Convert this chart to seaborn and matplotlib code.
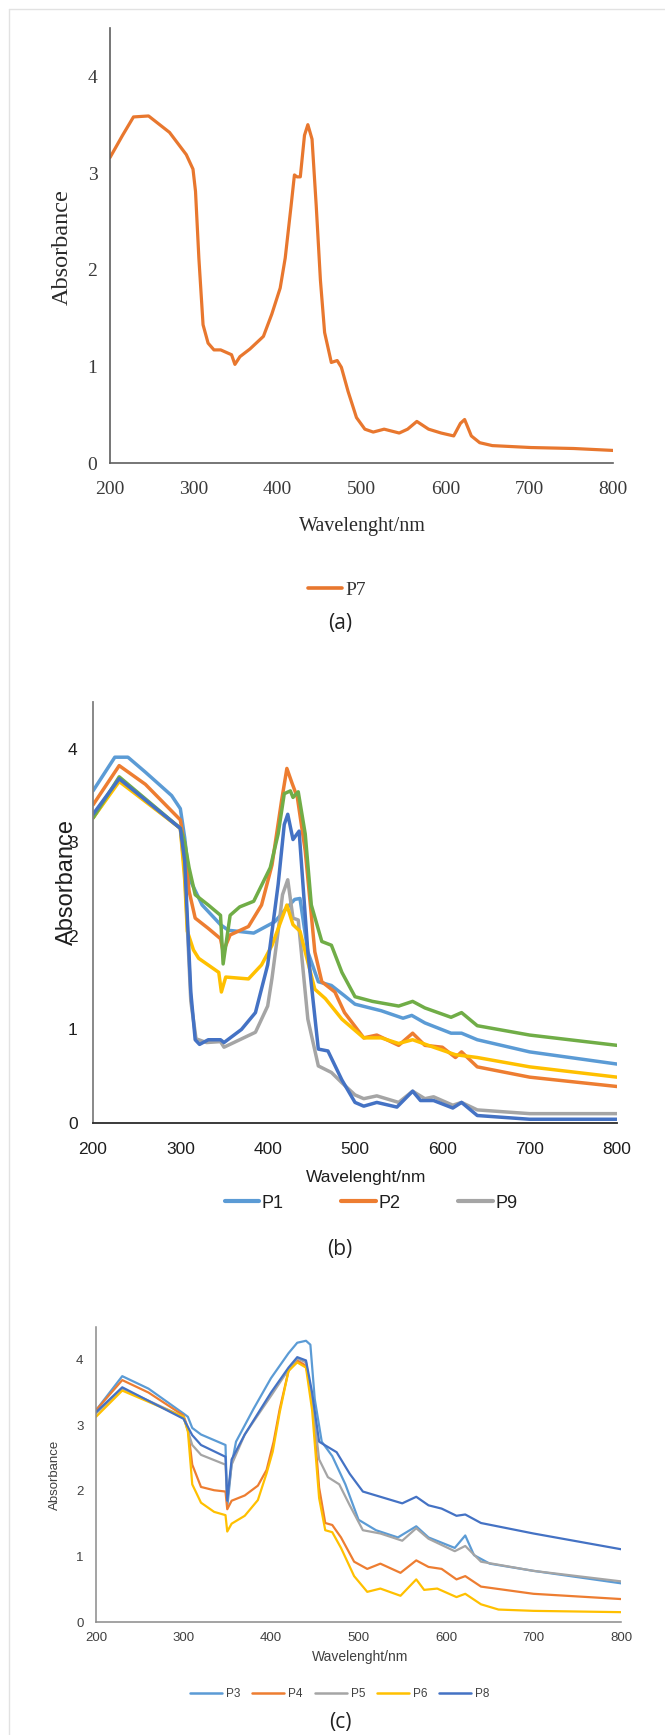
import matplotlib
matplotlib.use("Agg")
import matplotlib.pyplot as plt
import pandas as pd
import seaborn as sns
from matplotlib import font_manager
from matplotlib.lines import Line2D

# ---- panel (a): P7 ----
wl_p7 = [200, 215, 228, 246, 271, 291, 299, 302, 306, 311, 317, 324, 332, 345, 349, 355, 367, 383, 393,
         403, 409, 416, 420, 423, 427, 432, 436, 441, 446, 451, 456, 464, 471, 476, 484, 494, 504, 514,
         527, 545, 555, 566, 580, 595, 610, 618, 623, 631, 641, 656, 702, 753, 800]
abs_p7 = [3.16, 3.39, 3.58, 3.59, 3.42, 3.19, 3.04, 2.81, 2.12, 1.43, 1.24, 1.17, 1.17, 1.12, 1.02, 1.10,
          1.18, 1.31, 1.54, 1.81, 2.12, 2.66, 2.98, 2.96, 2.96, 3.39, 3.50, 3.35, 2.66, 1.89, 1.35, 1.04,
          1.06, 0.99, 0.74, 0.47, 0.35, 0.32, 0.35, 0.31, 0.35, 0.43, 0.35, 0.31, 0.28, 0.41, 0.45, 0.28,
          0.21, 0.18, 0.16, 0.15, 0.13]

# ---- panel (b) ----
wl_p1 = [200, 225, 240, 260, 290, 300, 305, 310, 325, 346, 355, 384, 408, 423, 431, 437, 446, 458, 473,
         488, 500, 530, 555, 565, 580, 610, 622, 640, 700, 800]
abs_p1 = [3.55, 3.91, 3.91, 3.75, 3.50, 3.36, 3.05, 2.62, 2.33, 2.12, 2.06, 2.03, 2.15, 2.31, 2.39, 2.40,
          1.83, 1.51, 1.47, 1.36, 1.27, 1.20, 1.12, 1.15, 1.07, 0.96, 0.96, 0.89, 0.76, 0.63]

wl_p2 = [200, 230, 260, 300, 305, 310, 317, 332, 346, 349, 357, 378, 393, 405, 416, 422, 428, 434, 443,
         454, 462, 477, 488, 510, 525, 550, 566, 580, 600, 615, 622, 640, 700, 800]
abs_p2 = [3.40, 3.82, 3.62, 3.24, 2.95, 2.48, 2.19, 2.08, 1.97, 1.83, 2.01, 2.10, 2.33, 2.76, 3.45, 3.79,
          3.63, 3.48, 2.91, 1.83, 1.51, 1.40, 1.18, 0.91, 0.94, 0.83, 0.96, 0.83, 0.81, 0.70, 0.76, 0.60,
          0.49, 0.39]

wl_p9 = [200, 230, 300, 305, 312, 318, 330, 346, 350, 386, 400, 405, 412, 417, 423, 429, 435, 446, 458,
         473, 485, 500, 510, 525, 550, 566, 580, 590, 612, 622, 640, 700, 800]
abs_p9 = [3.26, 3.67, 3.15, 2.70, 1.30, 0.90, 0.86, 0.87, 0.81, 0.97, 1.25, 1.55, 2.05, 2.44, 2.60, 2.19,
          2.17, 1.11, 0.61, 0.54, 0.43, 0.30, 0.26, 0.29, 0.22, 0.34, 0.26, 0.28, 0.19, 0.22, 0.14, 0.10,
          0.10]

wl_b_yellow = [200, 230, 300, 305, 308, 315, 321, 344, 347, 352, 378, 393, 405, 422, 429, 437, 446, 454,
               466, 485, 510, 530, 550, 566, 590, 615, 640, 700, 800]
abs_b_yellow = [3.26, 3.65, 3.15, 2.60, 2.05, 1.85, 1.76, 1.61, 1.40, 1.56, 1.54, 1.69, 1.90, 2.33, 2.12,
                2.05, 1.72, 1.43, 1.33, 1.11, 0.91, 0.91, 0.85, 0.89, 0.81, 0.73, 0.70, 0.60, 0.49]

wl_b_green = [200, 230, 300, 305, 310, 317, 332, 346, 349, 357, 368, 384, 403, 412, 419, 426, 429, 435,
              443, 450, 462, 473, 485, 500, 520, 550, 566, 580, 610, 622, 640, 700, 800]
abs_b_green = [3.26, 3.70, 3.15, 3.00, 2.73, 2.44, 2.33, 2.22, 1.70, 2.22, 2.31, 2.37, 2.73, 3.09, 3.52,
               3.55, 3.48, 3.54, 3.09, 2.33, 1.94, 1.90, 1.61, 1.35, 1.30, 1.25, 1.30, 1.23, 1.13, 1.18,
               1.04, 0.94, 0.83]

wl_b_navy = [200, 230, 300, 305, 312, 317, 322, 332, 346, 350, 370, 386, 400, 412, 419, 423, 429, 436,
             446, 458, 469, 485, 500, 510, 525, 548, 566, 575, 590, 612, 622, 640, 700, 800]
abs_b_navy = [3.30, 3.68, 3.15, 2.80, 1.40, 0.89, 0.84, 0.89, 0.89, 0.86, 1.00, 1.18, 1.69, 2.55, 3.19,
              3.30, 3.03, 3.12, 1.83, 0.79, 0.77, 0.46, 0.22, 0.18, 0.22, 0.17, 0.34, 0.24, 0.24, 0.16,
              0.22, 0.08, 0.04, 0.04]

# ---- panel (c) ----
wl_p3 = [200, 230, 260, 300, 305, 310, 320, 348, 350, 355, 360, 380, 400, 420, 430, 440, 445, 450, 458,
         470, 485, 500, 520, 545, 566, 580, 610, 622, 632, 650, 700, 800]
abs_p3 = [3.23, 3.75, 3.56, 3.18, 3.13, 2.96, 2.86, 2.70, 1.75, 2.40, 2.75, 3.25, 3.72, 4.10, 4.26, 4.29,
          4.23, 3.40, 2.75, 2.53, 2.10, 1.56, 1.40, 1.29, 1.46, 1.29, 1.13, 1.32, 1.02, 0.89, 0.78, 0.59]

wl_p4 = [200, 230, 260, 300, 305, 310, 320, 335, 348, 350, 355, 370, 385, 395, 403, 410, 420, 430, 440,
         447, 455, 462, 470, 480, 495, 510, 525, 548, 566, 580, 595, 612, 622, 640, 700, 800]
abs_p4 = [3.23, 3.69, 3.50, 3.15, 2.96, 2.40, 2.06, 2.01, 1.99, 1.72, 1.85, 1.93, 2.08, 2.32, 2.75, 3.25,
          3.83, 3.99, 3.91, 3.40, 2.05, 1.51, 1.48, 1.29, 0.92, 0.81, 0.89, 0.75, 0.94, 0.84, 0.81, 0.65,
          0.70, 0.54, 0.43, 0.35]

wl_p5 = [200, 230, 300, 310, 320, 348, 350, 355, 370, 400, 420, 430, 440, 447, 455, 465, 478, 490, 505,
         525, 550, 566, 580, 610, 622, 640, 700, 800]
abs_p5 = [3.18, 3.56, 3.13, 2.70, 2.55, 2.40, 1.85, 2.40, 2.86, 3.45, 3.85, 4.02, 3.96, 3.40, 2.48, 2.21,
          2.10, 1.78, 1.40, 1.35, 1.24, 1.43, 1.27, 1.08, 1.16, 0.92, 0.78, 0.62]

wl_p6 = [200, 230, 300, 305, 310, 320, 335, 348, 350, 355, 370, 385, 395, 402, 410, 420, 430, 440, 447,
         455, 462, 470, 480, 495, 510, 525, 548, 566, 575, 590, 612, 622, 640, 660, 700, 800]
abs_p6 = [3.13, 3.53, 3.13, 2.91, 2.10, 1.82, 1.68, 1.63, 1.38, 1.50, 1.62, 1.86, 2.27, 2.60, 3.20, 3.83,
          3.96, 3.88, 3.23, 1.89, 1.40, 1.37, 1.13, 0.70, 0.46, 0.51, 0.40, 0.65, 0.49, 0.51, 0.38, 0.43,
          0.27, 0.19, 0.17, 0.15]

wl_p8 = [200, 230, 300, 310, 320, 348, 350, 355, 370, 400, 420, 430, 440, 447, 455, 465, 475, 490, 505,
         525, 550, 566, 580, 595, 612, 622, 640, 700, 800]
abs_p8 = [3.20, 3.58, 3.10, 2.85, 2.70, 2.52, 1.85, 2.48, 2.86, 3.50, 3.88, 4.04, 3.99, 3.50, 2.75, 2.67,
          2.59, 2.26, 1.99, 1.91, 1.81, 1.91, 1.78, 1.73, 1.62, 1.64, 1.51, 1.35, 1.11]

x_ticks = [200, 300, 400, 500, 600, 700, 800]
y_ticks = [0, 1, 2, 3, 4]

BLUE, ORANGE, GRAY, YELLOW, NAVY, GREEN = "#5B9BD5", "#ED7D31", "#A5A5A5", "#FFC000", "#4472C4", "#70AD47"

W, H = 665, 1735

sns.set_theme(style="white")
plt.rcParams["font.family"] = ["Liberation Sans", "DejaVu Sans"]

installed = {f.name for f in font_manager.fontManager.ttflist}
NARROW = "Liberation Sans Narrow" if "Liberation Sans Narrow" in installed else "Liberation Sans"
B_SIZE = 13.5 if NARROW != "Liberation Sans" else 12.5


def fig_xy(x, y):
    return x / W, 1 - y / H


def panel_axes(fig, left, right, top, bottom):
    return fig.add_axes([left / W, 1 - bottom / H, (right - left) / W, (bottom - top) / H])


def spectra(series):
    frames = [pd.DataFrame({"wavelength": wl, "absorbance": a, "sample": name}) for name, wl, a in series]
    return pd.concat(frames, ignore_index=True)


def style_axes(ax, family, size, color, xpad, ypad, spine_color, spine_lw):
    ax.set_xlim(200, 800)
    ax.set_ylim(0, 4.5)
    ax.set_xticks(x_ticks)
    ax.set_yticks(y_ticks)
    sns.despine(ax=ax)
    ax.tick_params(axis="x", length=0, pad=xpad, labelsize=size, labelcolor=color)
    ax.tick_params(axis="y", length=0, pad=ypad, labelsize=size, labelcolor=color)
    for lbl in ax.get_xticklabels() + ax.get_yticklabels():
        lbl.set_fontfamily(family)
    for side in ("left", "bottom"):
        ax.spines[side].set_color(spine_color)
        ax.spines[side].set_linewidth(spine_lw)
    ax.grid(False)


def place_labels(fig, ax, xlabel_xy, ylabel_xy, family, xsize, ysize, color):
    ax.set_xlabel("Wavelenght/nm", fontfamily=family, fontsize=xsize, color=color, va="center")
    ax.set_ylabel("Absorbance", fontfamily=family, fontsize=ysize, color=color, va="center", ha="center")
    ax.xaxis.set_label_coords(*fig_xy(*xlabel_xy), transform=fig.transFigure)
    ax.yaxis.set_label_coords(*fig_xy(*ylabel_xy), transform=fig.transFigure)


fig = plt.figure(figsize=(W / 100, H / 100), dpi=100)

# page frame
fig.add_artist(Line2D([9 / W, 1], [1 - 9 / H] * 2, transform=fig.transFigure, color="#e2e2e2", lw=1))
fig.add_artist(Line2D([9 / W] * 2, [0, 1 - 9 / H], transform=fig.transFigure, color="#e2e2e2", lw=1))

# ---------- (a) ----------
ax_a = panel_axes(fig, 110, 613, 28, 463)
df_a = spectra([("P7", wl_p7, abs_p7)])
sns.lineplot(data=df_a, x="wavelength", y="absorbance", hue="sample", palette={"P7": "#E8772E"},
             linewidth=2.3, errorbar=None, legend=False, ax=ax_a)
style_axes(ax_a, "Liberation Serif", 14, "#3a3a3a", 13, 9, "#5f5f5f", 1.2)
place_labels(fig, ax_a, (362, 526), (62, 247), "Liberation Serif", 14.5, 17.5, "#2a2a2a")
ax_a.legend(handles=[Line2D([], [], color="#E8772E", lw=2.6, label="P7")],
            loc="center", bbox_to_anchor=fig_xy(337, 590), bbox_transform=fig.transFigure,
            frameon=False, handlelength=1.75, handletextpad=0.2,
            prop={"family": "Liberation Serif", "size": 14}, labelcolor="#333333")
fig.text(*fig_xy(340, 624), "(a)", ha="center", va="center", fontfamily="Open Sans", fontsize=15, color="#222222")

# ---------- (b) ----------
ax_b = panel_axes(fig, 93, 617, 702, 1123)
b_order = ["P1", "P2", "P9", "yellow", "green", "navy"]
df_b = spectra([("P1", wl_p1, abs_p1), ("P2", wl_p2, abs_p2), ("P9", wl_p9, abs_p9),
                ("yellow", wl_b_yellow, abs_b_yellow), ("green", wl_b_green, abs_b_green),
                ("navy", wl_b_navy, abs_b_navy)])
sns.lineplot(data=df_b, x="wavelength", y="absorbance", hue="sample", hue_order=b_order,
             palette={"P1": BLUE, "P2": ORANGE, "P9": GRAY, "yellow": YELLOW, "green": GREEN, "navy": NAVY},
             linewidth=2.5, errorbar=None, legend=False, ax=ax_b)
style_axes(ax_b, NARROW, B_SIZE, "#1e1e1e", 14, 11, "#2b2b2b", 1.3)
ax_b.spines["left"].set_color("#7f7f7f")
# the axis title sits on top of the 2 and 3 tick labels, as in the source figure
place_labels(fig, ax_b, (366, 1177), (67, 882), NARROW, B_SIZE, 17, "#1e1e1e")
ax_b.legend(handles=[Line2D([], [], color=c, lw=3, label=n) for n, c in (("P1", BLUE), ("P2", ORANGE), ("P9", GRAY))],
            loc="center", bbox_to_anchor=fig_xy(371, 1203), bbox_transform=fig.transFigure,
            frameon=False, ncol=3, handlelength=1.9, handletextpad=0.15, columnspacing=3.2,
            prop={"family": NARROW, "size": B_SIZE + 0.5}, labelcolor="#1e1e1e")
fig.text(*fig_xy(340, 1249), "(b)", ha="center", va="center", fontfamily="Open Sans", fontsize=15, color="#222222")

# ---------- (c) ----------
ax_c = panel_axes(fig, 96, 621, 1327, 1622)
c_order = ["P3", "P4", "P5", "P6", "P8"]
c_palette = {"P3": BLUE, "P4": ORANGE, "P5": GRAY, "P6": YELLOW, "P8": NAVY}
df_c = spectra([("P3", wl_p3, abs_p3), ("P4", wl_p4, abs_p4), ("P5", wl_p5, abs_p5),
                ("P6", wl_p6, abs_p6), ("P8", wl_p8, abs_p8)])
sns.lineplot(data=df_c, x="wavelength", y="absorbance", hue="sample", hue_order=c_order,
             palette=c_palette, linewidth=1.6, errorbar=None, legend=False, ax=ax_c)
style_axes(ax_c, "Liberation Sans", 9.5, "#404040", 7, 9, "#8a8a8a", 1.1)
place_labels(fig, ax_c, (360, 1657), (55, 1475), "Liberation Sans", 10, 9.5, "#404040")
ax_c.legend(handles=[Line2D([], [], color=c_palette[n], lw=1.8, label=n) for n in c_order],
            loc="center", bbox_to_anchor=fig_xy(340, 1694), bbox_transform=fig.transFigure,
            frameon=False, ncol=5, handlelength=2.7, handletextpad=0.35, columnspacing=1.0,
            prop={"family": "Liberation Sans", "size": 8.5}, labelcolor="#404040")
fig.text(*fig_xy(340, 1722), "(c)", ha="center", va="center", fontfamily="Open Sans", fontsize=15, color="#222222")

fig.savefig("out.png", dpi=100)
